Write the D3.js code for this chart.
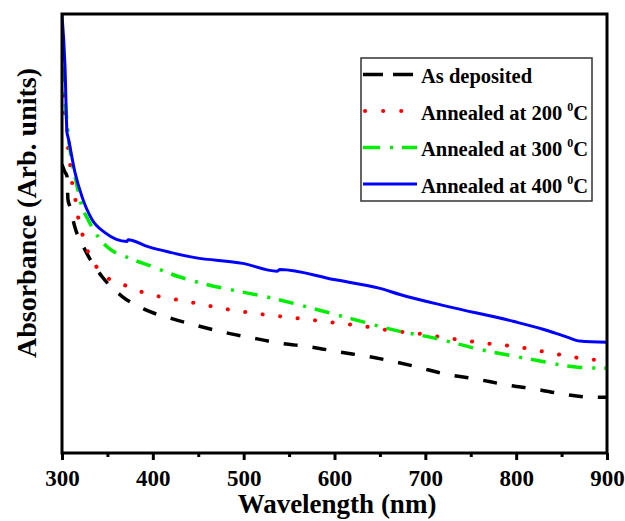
<!DOCTYPE html>
<html>
<head>
<meta charset="utf-8">
<script src="https://cdn.jsdelivr.net/npm/d3@7"></script>
<style>
  html, body { margin: 0; padding: 0; background: #ffffff; }
  svg { display: block; }
  text { font-family: "Liberation Serif", "Times New Roman", serif; font-weight: bold; fill: #000; }
</style>
</head>
<body>
<svg id="chart" width="625" height="521"></svg>
<script>
// ---- Data (absorbance in arbitrary units) ----
const xTicks = [300, 400, 500, 600, 700, 800, 900];
const xMinorTicks = [350, 450, 550, 650, 750, 850];

const asDepWl  = [300, 303, 305.5, 306.6, 308.8, 314, 325, 344, 366, 391, 421, 449, 485, 515, 540, 573, 603, 642, 691, 719, 757, 790, 823, 852, 885, 900];
const asDepAbs = [0.657, 0.641, 0.630, 0.577, 0.561, 0.516, 0.464, 0.402, 0.357, 0.327, 0.306, 0.290, 0.272, 0.260, 0.250, 0.242, 0.231, 0.218, 0.196, 0.181, 0.168, 0.155, 0.145, 0.134, 0.127, 0.127];

const a200Wl  = [300, 301.1, 302.2, 303.3, 305.5, 306.6, 308.8, 311, 314.3, 317.6, 322, 327.5, 336, 349.5, 367, 386, 406, 424, 443, 483, 520, 559, 595, 631, 669, 689, 727, 766, 804, 840, 878, 900];
const a200Abs = [0.895, 0.850, 0.793, 0.770, 0.741, 0.698, 0.661, 0.618, 0.582, 0.539, 0.502, 0.464, 0.430, 0.400, 0.384, 0.368, 0.357, 0.350, 0.343, 0.327, 0.316, 0.307, 0.298, 0.289, 0.277, 0.273, 0.261, 0.250, 0.241, 0.227, 0.214, 0.211];

const a300Wl  = [300, 301.1, 302.2, 306.6, 312, 314.3, 322, 328.6, 339.6, 350.6, 372.7, 399, 428, 446, 537, 620, 672, 705, 760, 815, 870, 900];
const a300Abs = [0.964, 0.900, 0.850, 0.730, 0.652, 0.630, 0.561, 0.532, 0.493, 0.468, 0.445, 0.425, 0.402, 0.391, 0.350, 0.305, 0.277, 0.264, 0.236, 0.214, 0.195, 0.193];

const a400Wl  = [300, 303.3, 305.5, 306.6, 314.3, 322, 333, 347.3, 371.6, 372.7, 394.7, 419, 446.4, 499, 536.7, 540, 599.4, 650, 672, 724, 796.5, 829.5, 856, 870, 900];
const a400Abs = [0.998, 0.880, 0.730, 0.720, 0.639, 0.584, 0.532, 0.502, 0.482, 0.486, 0.470, 0.457, 0.445, 0.432, 0.414, 0.418, 0.395, 0.375, 0.361, 0.334, 0.300, 0.282, 0.264, 0.255, 0.252];

const seriesNames = ["As deposited", "Annealed at 200 ", "Annealed at 300 ", "Annealed at 400 "];
const seriesColors = ["#000000", "#ff0000", "#00ee00", "#0000ff"];

// ---- Layout ----
const svg = d3.select("#chart");
const mLeft = 62, mRight = 607, mTop = 14, mBottom = 453;

const x = d3.scaleLinear().domain([300, 900]).range([mLeft, mRight]);
const y = d3.scaleLinear().domain([0, 1]).range([mBottom, mTop]);

const series = [
  { wl: asDepWl, abs: asDepAbs, color: seriesColors[0], width: 3.5, dash: "14 15", cap: "butt" },
  { wl: a200Wl,  abs: a200Abs,  color: seriesColors[1], width: 4,   dash: "0.1 17.5", cap: "round" },
  { wl: a300Wl,  abs: a300Abs,  color: seriesColors[2], width: 3.5, dash: "15 10 3 9", cap: "butt" },
  { wl: a400Wl,  abs: a400Abs,  color: seriesColors[3], width: 3,   dash: null, cap: "butt" }
];

svg.append("defs").append("clipPath").attr("id", "plotclip")
  .append("rect").attr("x", mLeft).attr("y", mTop).attr("width", mRight - mLeft).attr("height", mBottom - mTop);

const line = d3.line()
  .x(d => x(d[0]))
  .y(d => y(d[1]))
  .curve(d3.curveMonotoneX);

const plot = svg.append("g").attr("clip-path", "url(#plotclip)");
series.forEach(s => {
  const pts = s.wl.map((w, i) => [w, s.abs[i]]);
  plot.append("path")
    .datum(pts)
    .attr("d", line)
    .attr("fill", "none")
    .attr("stroke", s.color)
    .attr("stroke-width", s.width)
    .attr("stroke-linecap", s.cap)
    .attr("stroke-linejoin", "round")
    .attr("stroke-dasharray", s.dash);
});

// ---- Frame ----
svg.append("rect")
  .attr("x", mLeft).attr("y", mTop)
  .attr("width", mRight - mLeft).attr("height", mBottom - mTop)
  .attr("fill", "none").attr("stroke", "#000").attr("stroke-width", 3);

// ---- X axis ----
const xAxis = d3.axisBottom(x).tickValues(xTicks).tickSize(7).tickPadding(10).tickFormat(d3.format("d"));
const gx = svg.append("g").attr("transform", `translate(0,${mBottom})`).call(xAxis);
gx.select(".domain").remove();
gx.selectAll(".tick line").attr("stroke", "#000").attr("stroke-width", 3);
gx.selectAll(".tick text")
  .attr("font-family", "Liberation Serif, serif")
  .attr("font-weight", "bold")
  .attr("font-size", 23)
  .attr("fill", "#000");

const xMinor = d3.axisBottom(x).tickValues(xMinorTicks).tickSize(4).tickFormat("");
const gxm = svg.append("g").attr("transform", `translate(0,${mBottom})`).call(xMinor);
gxm.select(".domain").remove();
gxm.selectAll(".tick line").attr("stroke", "#000").attr("stroke-width", 3);

// ---- Axis titles ----
svg.append("text")
  .attr("x", 337).attr("y", 513)
  .attr("text-anchor", "middle")
  .attr("font-size", 27)
  .text("Wavelength (nm)");

svg.append("text")
  .attr("transform", "translate(36,213) rotate(-90)")
  .attr("text-anchor", "middle")
  .attr("font-size", 28)
  .text("Absorbance (Arb. units)");

// ---- Legend ----
const lg = svg.append("g");
lg.append("rect")
  .attr("x", 361).attr("y", 58).attr("width", 231).attr("height", 143)
  .attr("fill", "#fff").attr("stroke", "#333").attr("stroke-width", 1.5);

const legendDash = ["20 10", "0.1 18", "17 10 3 9", null];
const legendWidth = [3.5, 4, 3.5, 3];
const legendCap = ["butt", "round", "butt", "butt"];
const rowBase = [83, 119.5, 156, 192.5];

seriesNames.forEach((name, i) => {
  const by = rowBase[i];
  lg.append("line")
    .attr("x1", i === 1 ? 365 : 363).attr("x2", 417)
    .attr("y1", by - 8.5).attr("y2", by - 8.5)
    .attr("stroke", seriesColors[i])
    .attr("stroke-width", legendWidth[i])
    .attr("stroke-linecap", legendCap[i])
    .attr("stroke-dasharray", legendDash[i]);
  const t = lg.append("text")
    .attr("x", 421).attr("y", by)
    .attr("font-size", 20.5)
    .text(name);
  if (i > 0) {
    t.append("tspan").attr("dy", -9).attr("font-size", 12).text("0");
    t.append("tspan").attr("dy", 9).text("C");
  }
});
</script>
</body>
</html>
